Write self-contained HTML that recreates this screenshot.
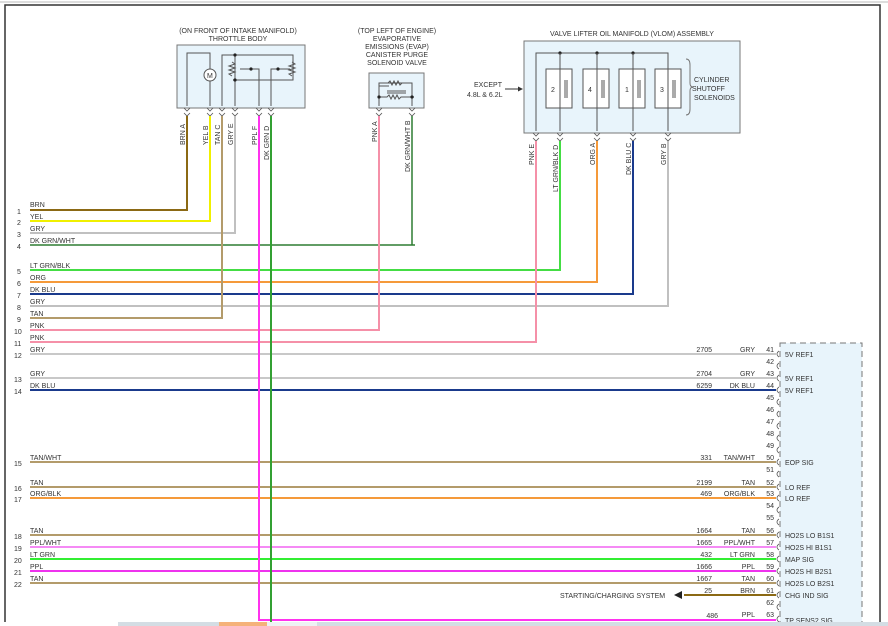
<!DOCTYPE html>
<html><head><meta charset="utf-8"><style>
html,body{margin:0;padding:0;background:#fff;width:888px;height:626px;overflow:hidden}
svg{display:block}
text{font-family:"Liberation Sans",sans-serif;font-size:7px;fill:#333}
.box{fill:#e8f4fb;stroke:#777;stroke-width:1}
.in{fill:none;stroke:#555;stroke-width:1}
</style></head><body>
<svg width="888" height="626" viewBox="0 0 888 626">
<!-- frame -->
<line x1="0" y1="2" x2="888" y2="2" stroke="#ddd" stroke-width="2"/>
<polyline points="5,626 5,5 880,5 880,626" fill="none" stroke="#333" stroke-width="1.5"/>

<!-- Throttle body -->
<text x="238" y="33" text-anchor="middle">(ON FRONT OF INTAKE MANIFOLD)</text>
<text x="238" y="41" text-anchor="middle">THROTTLE BODY</text>
<rect class="box" x="177" y="45" width="128" height="63"/>
<polyline class="in" points="187,106 187,53 210,53 210,106"/>
<circle cx="210" cy="75" r="6" fill="#fff" stroke="#555"/><text x="207" y="78">M</text>
<polyline class="in" points="222,106 222,55 293,55 293,80 233,80"/>
<line class="in" x1="235" y1="55" x2="235" y2="106"/>
<polyline class="in" points="259,106 259,69 240,69"/>
<polyline class="in" points="271,106 271,69 290,69"/>
<path class="in" d="M232,62 l3,2 -6,2 6,2 -6,2 6,2 -6,2 3,2"/>
<path class="in" d="M292,62 l3,2 -6,2 6,2 -6,2 6,2 -6,2 3,2"/>
<g fill="#222"><circle cx="235" cy="55" r="1.6"/><circle cx="251" cy="69" r="1.6"/><circle cx="278" cy="69" r="1.6"/><circle cx="235" cy="80" r="1.6"/></g>

<!-- EVAP -->
<g text-anchor="middle"><text x="397" y="33">(TOP LEFT OF ENGINE)</text><text x="397" y="41">EVAPORATIVE</text><text x="397" y="49">EMISSIONS (EVAP)</text><text x="397" y="57">CANISTER PURGE</text><text x="397" y="65">SOLENOID VALVE</text></g>
<rect class="box" x="369" y="73" width="55" height="35"/>
<polyline class="in" points="379,106 379,86 389,86 M379,86"/>
<polyline class="in" points="379,86 379,83 412,83 412,106"/>
<path class="in" d="M381,83 h7 l2,-2 2,4 2,-4 2,4 2,-4 2,4 2,-2 h10"/>
<path class="in" d="M379,97 h8 l2,-2 2,4 2,-4 2,4 2,-4 2,4 2,-2 h13"/>
<line x1="387" y1="91" x2="406" y2="91" stroke="#555"/><line x1="387" y1="93" x2="406" y2="93" stroke="#555"/>
<g fill="#222"><circle cx="379" cy="97" r="1.6"/><circle cx="412" cy="97" r="1.6"/></g>

<!-- VLOM -->
<text x="632" y="36" text-anchor="middle">VALVE LIFTER OIL MANIFOLD (VLOM) ASSEMBLY</text>
<rect class="box" x="524" y="41" width="216" height="92"/>
<polyline class="in" points="536,131 536,53 668,53 668,64"/>
<g fill="#222"><circle cx="560" cy="53" r="1.6"/><circle cx="597" cy="53" r="1.6"/><circle cx="633" cy="53" r="1.6"/></g>
<g fill="#fff" stroke="#555">
<rect x="546" y="69" width="26" height="39"/><rect x="583" y="69" width="26" height="39"/><rect x="619" y="69" width="26" height="39"/><rect x="655" y="69" width="26" height="39"/></g>
<g class="in"><line x1="560" y1="53" x2="560" y2="131"/><line x1="597" y1="53" x2="597" y2="131"/><line x1="633" y1="53" x2="633" y2="131"/><line x1="668" y1="53" x2="668" y2="131"/></g>
<g stroke="#555"><line x1="565" y1="80" x2="565" y2="98"/><line x1="567" y1="80" x2="567" y2="98"/><line x1="602" y1="80" x2="602" y2="98"/><line x1="604" y1="80" x2="604" y2="98"/><line x1="638" y1="80" x2="638" y2="98"/><line x1="640" y1="80" x2="640" y2="98"/><line x1="673" y1="80" x2="673" y2="98"/><line x1="675" y1="80" x2="675" y2="98"/></g>
<text x="551" y="92" font-size="8">2</text><text x="588" y="92" font-size="8">4</text><text x="625" y="92" font-size="8">1</text><text x="660" y="92" font-size="8">3</text>
<path d="M686,59 q4,0 4,6 v18 q0,4 3,4 q-3,0 -3,4 v18 q0,6 -4,6" fill="none" stroke="#777"/>
<text x="694" y="82">CYLINDER</text><text x="692" y="91">SHUTOFF</text><text x="694" y="100">SOLENOIDS</text>
<text x="474" y="87">EXCEPT</text><text x="467" y="97">4.8L &amp; 6.2L</text>
<line x1="505" y1="89" x2="518" y2="89" stroke="#333"/><path d="M523,89 l-5,-2.5 v5z" fill="#333"/>

<!-- connector pin marks top -->
<g fill="none" stroke="#555" stroke-width="0.8">
<path d="M184,113 l3,3 3,-3 M184,108 l3,3 3,-3"/><path d="M207,113 l3,3 3,-3 M207,108 l3,3 3,-3"/><path d="M219,113 l3,3 3,-3 M219,108 l3,3 3,-3"/><path d="M232,113 l3,3 3,-3 M232,108 l3,3 3,-3"/><path d="M256,113 l3,3 3,-3 M256,108 l3,3 3,-3"/><path d="M268,113 l3,3 3,-3 M268,108 l3,3 3,-3"/>
<path d="M376,113 l3,3 3,-3 M376,108 l3,3 3,-3"/><path d="M409,113 l3,3 3,-3 M409,108 l3,3 3,-3"/>
<path d="M533,138 l3,3 3,-3 M533,133 l3,3 3,-3"/><path d="M557,138 l3,3 3,-3 M557,133 l3,3 3,-3"/><path d="M594,138 l3,3 3,-3 M594,133 l3,3 3,-3"/><path d="M630,138 l3,3 3,-3 M630,133 l3,3 3,-3"/><path d="M665,138 l3,3 3,-3 M665,133 l3,3 3,-3"/>
</g>

<!-- vertical labels -->
<g>
<text transform="translate(185,145) rotate(-90)">BRN  A</text>
<text transform="translate(208,145) rotate(-90)">YEL  B</text>
<text transform="translate(220,145) rotate(-90)">TAN  C</text>
<text transform="translate(233,145) rotate(-90)">GRY  E</text>
<text transform="translate(257,145) rotate(-90)">PPL  F</text>
<text transform="translate(269,160) rotate(-90)">DK GRN  D</text>
<text transform="translate(377,142) rotate(-90)">PNK  A</text>
<text transform="translate(410,172) rotate(-90)">DK GRN/WHT  B</text>
<text transform="translate(534,165) rotate(-90)">PNK  E</text>
<text transform="translate(558,192) rotate(-90)">LT GRN/BLK  D</text>
<text transform="translate(595,165) rotate(-90)">ORG  A</text>
<text transform="translate(631,175) rotate(-90)">DK BLU  C</text>
<text transform="translate(666,165) rotate(-90)">GRY  B</text>
</g>

<!-- wires -->
<g fill="none" stroke-width="2">
<polyline stroke="#8b6914" points="30,210 187,210 187,116"/>
<polyline stroke="#f0f000" points="30,221 210,221 210,116"/>
<polyline stroke="#c0c0c0" points="30,233 235,233 235,116"/>
<polyline stroke="#2e7d32" stroke-width="1.5" points="30,245 415,245 412,245 412,116"/>
<polyline stroke="#44dd44" points="30,270 560,270 560,141"/>
<polyline stroke="#f59a3a" points="30,282 597,282 597,141"/>
<polyline stroke="#1a3a8c" points="30,294 633,294 633,141"/>
<polyline stroke="#c0c0c0" points="30,306 668,306 668,141"/>
<polyline stroke="#b39b6b" points="30,318 222,318 222,116"/>
<polyline stroke="#f590a8" points="30,330 379,330 379,116"/>
<polyline stroke="#f590a8" points="30,342 536,342 536,141"/>
<line stroke="#c8c8c8" x1="30" y1="354" x2="776" y2="354"/>
<line stroke="#c8c8c8" x1="30" y1="378" x2="776" y2="378"/>
<line stroke="#1a3a8c" x1="30" y1="390" x2="776" y2="390"/>
<line stroke="#b39b6b" x1="30" y1="462" x2="776" y2="462"/>
<line stroke="#b39b6b" x1="30" y1="487" x2="776" y2="487"/>
<line stroke="#f59a3a" x1="30" y1="498" x2="776" y2="498"/>
<line stroke="#b39b6b" x1="30" y1="535" x2="776" y2="535"/>
<line stroke="#f58af5" x1="30" y1="547" x2="776" y2="547"/>
<line stroke="#33ee33" x1="30" y1="559" x2="776" y2="559"/>
<line stroke="#ee33ee" x1="30" y1="571" x2="776" y2="571"/>
<line stroke="#b39b6b" x1="30" y1="583" x2="776" y2="583"/>
<line stroke="#8b6914" x1="684" y1="595" x2="776" y2="595"/>
<polyline stroke="#ff33ee" points="259,116 259,620 776,620"/>
<line stroke="#33a033" x1="271" y1="116" x2="271" y2="626"/>
</g>
<path d="M674,595 l8,-4 v8z" fill="#222"/>
<text x="560" y="598">STARTING/CHARGING SYSTEM</text>

<!-- left labels -->
<g font-size="7">
<text x="17" y="214">1</text><text x="30" y="207">BRN</text>
<text x="17" y="225">2</text><text x="30" y="219">YEL</text>
<text x="17" y="237">3</text><text x="30" y="231">GRY</text>
<text x="17" y="249">4</text><text x="30" y="243">DK GRN/WHT</text>
<text x="17" y="274">5</text><text x="30" y="268">LT GRN/BLK</text>
<text x="17" y="286">6</text><text x="30" y="280">ORG</text>
<text x="17" y="298">7</text><text x="30" y="292">DK BLU</text>
<text x="17" y="310">8</text><text x="30" y="304">GRY</text>
<text x="17" y="322">9</text><text x="30" y="316">TAN</text>
<text x="14" y="334">10</text><text x="30" y="328">PNK</text>
<text x="14" y="346">11</text><text x="30" y="340">PNK</text>
<text x="14" y="358">12</text><text x="30" y="352">GRY</text>
<text x="14" y="382">13</text><text x="30" y="376">GRY</text>
<text x="14" y="394">14</text><text x="30" y="388">DK BLU</text>
<text x="14" y="466">15</text><text x="30" y="460">TAN/WHT</text>
<text x="14" y="491">16</text><text x="30" y="485">TAN</text>
<text x="14" y="502">17</text><text x="30" y="496">ORG/BLK</text>
<text x="14" y="539">18</text><text x="30" y="533">TAN</text>
<text x="14" y="551">19</text><text x="30" y="545">PPL/WHT</text>
<text x="14" y="563">20</text><text x="30" y="557">LT GRN</text>
<text x="14" y="575">21</text><text x="30" y="569">PPL</text>
<text x="14" y="587">22</text><text x="30" y="581">TAN</text>
</g>

<!-- right connector -->
<rect x="780" y="343" width="82" height="290" fill="#e8f4fb" stroke="#777" stroke-dasharray="6,4"/>
<g text-anchor="end">
<text x="712" y="352">2705</text><text x="755" y="352">GRY</text>
<text x="712" y="376">2704</text><text x="755" y="376">GRY</text>
<text x="712" y="388">6259</text><text x="755" y="388">DK BLU</text>
<text x="712" y="460">331</text><text x="755" y="460">TAN/WHT</text>
<text x="712" y="485">2199</text><text x="755" y="485">TAN</text>
<text x="712" y="496">469</text><text x="755" y="496">ORG/BLK</text>
<text x="712" y="533">1664</text><text x="755" y="533">TAN</text>
<text x="712" y="545">1665</text><text x="755" y="545">PPL/WHT</text>
<text x="712" y="557">432</text><text x="755" y="557">LT GRN</text>
<text x="712" y="569">1666</text><text x="755" y="569">PPL</text>
<text x="712" y="581">1667</text><text x="755" y="581">TAN</text>
<text x="712" y="593">25</text><text x="755" y="593">BRN</text>
<text x="718" y="618">486</text><text x="755" y="617">PPL</text>
<text x="774" y="352">41</text><text x="774" y="364">42</text><text x="774" y="376">43</text><text x="774" y="388">44</text><text x="774" y="400">45</text><text x="774" y="412">46</text><text x="774" y="424">47</text><text x="774" y="436">48</text><text x="774" y="448">49</text><text x="774" y="460">50</text><text x="774" y="472">51</text><text x="774" y="485">52</text><text x="774" y="496">53</text><text x="774" y="508">54</text><text x="774" y="520">55</text><text x="774" y="533">56</text><text x="774" y="545">57</text><text x="774" y="557">58</text><text x="774" y="569">59</text><text x="774" y="581">60</text><text x="774" y="593">61</text><text x="774" y="605">62</text><text x="774" y="617">63</text>
</g>
<g fill="none" stroke="#555" stroke-width="0.8">
<path d="M779,351 q-4,3 0,6 M779,363 q-4,3 0,6 M779,375 q-4,3 0,6 M779,387 q-4,3 0,6 M779,399 q-4,3 0,6 M779,411 q-4,3 0,6 M779,423 q-4,3 0,6 M779,435 q-4,3 0,6 M779,447 q-4,3 0,6 M779,459 q-4,3 0,6 M779,471 q-4,3 0,6 M779,484 q-4,3 0,6 M779,495 q-4,3 0,6 M779,507 q-4,3 0,6 M779,519 q-4,3 0,6 M779,532 q-4,3 0,6 M779,544 q-4,3 0,6 M779,556 q-4,3 0,6 M779,568 q-4,3 0,6 M779,580 q-4,3 0,6 M779,592 q-4,3 0,6 M779,604 q-4,3 0,6 M779,616 q-4,3 0,6"/>
</g>
<g>
<text x="785" y="357">5V REF1</text><text x="785" y="381">5V REF1</text><text x="785" y="393">5V REF1</text>
<text x="785" y="465">EOP SIG</text><text x="785" y="490">LO REF</text><text x="785" y="501">LO REF</text>
<text x="785" y="538">HO2S LO B1S1</text><text x="785" y="550">HO2S HI B1S1</text><text x="785" y="562">MAP SIG</text>
<text x="785" y="574">HO2S HI B2S1</text><text x="785" y="586">HO2S LO B2S1</text><text x="785" y="598">CHG IND SIG</text><text x="785" y="623">TP SENS2 SIG</text>
</g>

<!-- bottom bar -->
<rect x="0" y="622" width="888" height="4" fill="#d4dde4"/>
<rect x="0" y="622" width="118" height="4" fill="#fff"/>
<rect x="219" y="622" width="48" height="4" fill="#f5b27a"/>
<rect x="267" y="622" width="50" height="4" fill="#eef2f4"/>
</svg>
</body></html>
